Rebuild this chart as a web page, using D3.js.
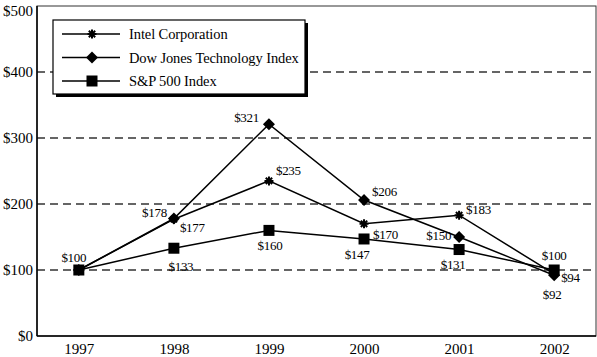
<!DOCTYPE html>
<html><head><meta charset="utf-8">
<script src="https://cdn.jsdelivr.net/npm/d3@7"></script>
<style>body{margin:0;background:#fff}svg{display:block}text{font-family:"Liberation Serif","Times New Roman",serif;fill:#000}</style>
</head><body><svg id="c" width="597" height="357"></svg>
<script>
const years = ["1997","1998","1999","2000","2001","2002"];
const intel = [100,177,235,170,183,94];
const dowJones = [100,178,321,206,150,92];
const sp500 = [100,133,160,147,131,100];
const yTicks = [0,100,200,300,400,500];
const seriesNames = ["Intel Corporation","Dow Jones Technology Index","S&P 500 Index"];

// label placement (layout only): [dx, dy, anchor]
const labelPos = {
  intel: [null,[6,13,"start"],[7,-6,"start"],[9,15,"start"],[7,-1,"start"],[7,8,"start"]],
  dow:   [null,[-7,-2,"end"],[-10,-2,"end"],[8,-4,"start"],[-8,3,"end"],[-2,24,"middle"]],
  sp:    [[-5,-8,"middle"],[7,23,"middle"],[1,20,"middle"],[-7,20,"middle"],[-6,19,"middle"],[0,-10,"middle"]]
};

const svg = d3.select("#c");
const L=37,R=596,T=6,B=336;
const x = d3.scalePoint().domain(years).range([L,R]).padding(0.44);
const y = d3.scaleLinear().domain([0,500]).range([B,T]);

// grid
svg.append("g").selectAll("line").data(yTicks.filter(d=>d>0&&d<500)).join("line")
  .attr("x1",L).attr("x2",R).attr("y1",d=>y(d)).attr("y2",d=>y(d))
  .attr("stroke","#333").attr("stroke-width",1.3).attr("stroke-dasharray","8,5");
// frame
svg.append("rect").attr("x",L).attr("y",T).attr("width",R-L).attr("height",B-T)
  .attr("fill","none").attr("stroke","#333").attr("stroke-width",1);
svg.append("line").attr("x1",L).attr("x2",L).attr("y1",T).attr("y2",B).attr("stroke","#000").attr("stroke-width",1.5);
svg.append("line").attr("x1",L).attr("x2",R).attr("y1",B).attr("y2",B).attr("stroke","#000").attr("stroke-width",1.5);

// axes
const ya = d3.axisLeft(y).tickValues(yTicks).tickSize(0).tickPadding(4).tickFormat(d=>"$"+d);
const yg = svg.append("g").attr("transform",`translate(${L},0)`).call(ya);
yg.select(".domain").remove();
yg.selectAll("text").style("font-size","15px").style("font-family","Liberation Serif")
  .attr("dy", d=> d===500 ? "0.62em" : "0.32em");
const xa = d3.axisBottom(x).tickSize(0).tickPadding(7);
const xg = svg.append("g").attr("transform",`translate(0,${B})`).call(xa);
xg.select(".domain").remove();
xg.selectAll("text").style("font-size","15px").style("font-family","Liberation Serif");

const line = d3.line().x((d,i)=>x(years[i])).y(d=>y(d));
const series = [
  {key:"intel", vals:intel, marker:"star"},
  {key:"dow", vals:dowJones, marker:"diamond"},
  {key:"sp", vals:sp500, marker:"square"}
];
function drawMarker(g, type, cx, cy){
  if(type==="square"){
    g.append("rect").attr("x",cx-5.5).attr("y",cy-5.5).attr("width",11).attr("height",11).attr("fill","#000");
  } else if(type==="diamond"){
    g.append("path").attr("d",`M${cx},${cy-6}L${cx+6},${cy}L${cx},${cy+6}L${cx-6},${cy}Z`).attr("fill","#000");
  } else {
    const r=4.5;
    const p=[];
    for(let k=0;k<4;k++){const a=k*Math.PI/4;p.push(`M${cx-r*Math.cos(a)},${cy-r*Math.sin(a)}L${cx+r*Math.cos(a)},${cy+r*Math.sin(a)}`);}
    g.append("path").attr("d",p.join("")).attr("stroke","#000").attr("stroke-width",2);
  }
}
const sg = svg.append("g");
series.forEach(s=>{
  sg.append("path").attr("d",line(s.vals)).attr("fill","none").attr("stroke","#000").attr("stroke-width",1.5);
});
series.slice().reverse().forEach(s=>{
  s.vals.forEach((v,i)=>drawMarker(sg,s.marker,x(years[i]),y(v)));
});
series.forEach(s=>{
  s.vals.forEach((v,i)=>{
    const p = labelPos[s.key][i]; if(!p) return;
    sg.append("text").attr("x",x(years[i])+p[0]).attr("y",y(v)+p[1]).attr("text-anchor",p[2])
      .style("font-size","13px").style("letter-spacing","-0.3px").text("$"+v);
  });
});

// legend
const lg = svg.append("g");
lg.append("rect").attr("x",56).attr("y",23).attr("width",252).attr("height",74).attr("fill","#000");
lg.append("rect").attr("x",53).attr("y",20).attr("width",252).attr("height",74).attr("fill","#fff").attr("stroke","#000").attr("stroke-width",1.2);
seriesNames.forEach((n,i)=>{
  const yy = 34 + i*23.5;
  lg.append("line").attr("x1",62).attr("x2",120).attr("y1",yy).attr("y2",yy).attr("stroke","#000").attr("stroke-width",1.5);
  drawMarker(lg, series[i].marker, 92, yy);
  lg.append("text").attr("x",129).attr("y",yy+5).style("font-size","14.5px").style("letter-spacing","-0.1px").text(n);
});
</script></body></html>
